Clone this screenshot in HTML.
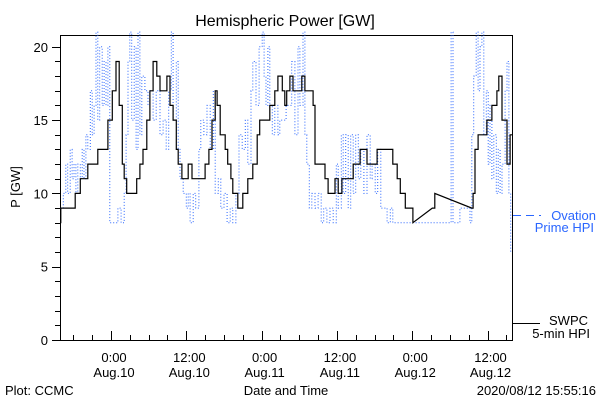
<!DOCTYPE html>
<html><head><meta charset="utf-8"><style>
body{margin:0;background:#fff}
svg{display:block;font-family:"Liberation Sans",sans-serif}
</style></head><body>
<svg id="chart" width="600" height="400"></svg>
<script>
const xTickHours=[0,12,24,36,48,60];
const xTickTimes=["0:00","12:00","0:00","12:00","0:00","12:00"];
const xTickDates=["Aug.10","Aug.10","Aug.11","Aug.11","Aug.12","Aug.12"];
const yTicks=[0,5,10,15,20];
const swpcHours=[-8.1,-8.0,-5.7,-4.9,-3.7,-2.1,-0.5,0.2,0.8,1.3,1.8,2.1,2.5,4.1,4.6,5.1,5.7,6.2,6.7,7.3,7.8,8.9,9.4,9.9,10.4,10.7,11.3,12.3,12.9,15.0,15.6,16.1,16.6,16.9,17.4,18.2,18.6,19.1,19.4,20.2,21.0,21.8,22.6,23.3,23.7,25.3,26.1,26.6,27.3,27.7,28.0,28.5,29.0,30.4,30.9,32.2,32.5,34.1,34.6,35.7,36.2,36.8,38.6,39.7,40.8,42.4,44.9,45.6,46.1,46.9,48.1,51.2,51.6,57.5,57.7,58.0,58.5,59.9,60.7,61.5,61.8,62.3,63.1,63.6,63.9];
const swpcPower=[8,9,10,11,12,13,15,17,19,16,12,11,10,11,12,13,15,17,19,18,17,18,16,15,13,12,11,12,11,12,13,15,17,16,14,13,12,11,10,9,10,11,12,14,15,16,17,18,17,16,17,18,17,18,17,16,12,11,10,11,10,11,12,13,12,13,12,11,10,9,8,9,10,9,10,13,14,15,16,17,18,15,12,14,14];
const ovationHours=[-8.1,-7.6,-7.2,-6.9,-6.5,-6.2,-5.9,-5.6,-5.3,-4.9,-4.6,-4.3,-4.0,-3.7,-3.3,-3.0,-2.7,-2.4,-2.1,-1.8,-1.4,-1.1,-0.8,-0.5,-0.2,0.2,0.6,1.1,1.6,2.1,2.4,2.7,3.0,3.3,3.7,4.0,4.3,4.6,4.9,5.4,5.9,6.2,6.7,7.2,7.8,8.3,8.8,9.2,9.6,9.9,10.4,10.7,11.0,11.5,12.0,12.3,12.6,13.1,13.5,14.0,14.3,14.8,15.3,15.8,16.3,16.6,17.1,17.5,18.0,18.5,19.0,19.4,19.9,20.4,20.9,21.4,21.8,22.3,22.6,23.1,23.6,24.1,24.4,24.7,25.0,25.3,25.7,26.1,26.6,26.9,27.4,27.9,28.4,28.8,29.3,29.8,30.1,30.6,30.9,31.2,31.6,32.0,32.5,33.0,33.5,33.9,34.4,34.9,35.4,35.9,36.2,36.7,37.0,37.4,37.8,38.2,38.6,39.0,39.4,39.8,40.3,40.8,41.3,41.6,42.1,42.5,43.0,43.5,44.0,44.5,44.9,46.1,54.0,54.2,54.5,55.3,55.6,57.2,57.5,57.8,58.2,58.5,58.8,59.1,59.4,59.8,60.1,60.4,60.7,61.0,61.4,61.7,62.0,62.3,62.8,63.1,63.4,63.7];
const ovationPower=[9,10,12,10,13,11,12,10,12,11,13,11,14,13,17,14,16,21,15,20,16,19,16,20,8,8,8,9,8,10,14,19,21,15,20,13,21,14,18,17,16,17,15,17,14,15,13,17,21,15,19,13,11,10,9,10,8,10,9,13,15,14,16,13,17,10,11,9,10,8,9,8,10,14,13,15,12,17,19,16,20,21,18,16,20,16,14,16,14,15,15,16,16,19,14,20,16,21,14,12,9,10,9,10,8,9,8,9,8,12,9,14,10,14,9,14,10,14,11,13,10,14,11,12,10,13,9,9,8,9,8,8,8,21,8,8,9,8,14,18,21,17,20,21,14,17,12,16,11,14,10,13,10,12,17,19,10,6];

const L=60,R=512,T=35,B=340,H0=-8.13,H1=63.9;
const xs=h=>L+(h-H0)/(H1-H0)*(R-L);
const ys=v=>B-v*14.66;
const svg=document.getElementById('chart');
const NS='http://www.w3.org/2000/svg';
function mk(tag,attrs,parent){const e=document.createElementNS(NS,tag);for(const k in attrs)e.setAttribute(k,attrs[k]);(parent||svg).appendChild(e);return e;}
function txt(s,x,y,anchor,fill,size,name){const t=mk('text',{x:x,y:y,'text-anchor':anchor,fill:fill,'font-size':size});t.textContent=s;

return t;}

const frame=mk('rect',{x:L+0.5,y:T+0.5,width:R-L,height:B-T,fill:'none',stroke:'#000','stroke-width':1});



for(let v=0;v<=20;v++){const y=Math.round(ys(v))+0.5;const len=v%5===0?8:5;
const tk=mk('line',{x1:L-len,x2:L,y1:y,y2:y,stroke:'#000'});

}
yTicks.forEach(v=>txt(String(v),48,ys(v)+5,'end','#000',13,'y-tick-label'));

for(let h=-6;h<=63;h+=3){const x=Math.round(xs(h))+0.5;const len=h%12===0?9:5;
const tk=mk('line',{x1:x,x2:x,y1:B-len,y2:B,stroke:'#000'});

}
xTickHours.forEach((h,i)=>{txt(xTickTimes[i],xs(h)+3,362,'middle','#000',13,'x-tick-time');txt(xTickDates[i],xs(h)+3,377,'middle','#000',13,'x-tick-date');});

function stepPath(hs,vs,gap){let d='M'+xs(hs[0]).toFixed(1)+','+ys(vs[0]).toFixed(1);
for(let i=1;i<hs.length;i++){const x=xs(hs[i]).toFixed(1),y=ys(vs[i]).toFixed(1);
if(gap&&hs[i]-hs[i-1]>3){d+='L'+x+','+y;}else{d+='H'+x+'V'+y;}}return d;}

const ov=mk('path',{d:stepPath(ovationHours,ovationPower,false),fill:'none',stroke:'#2a66ff','stroke-width':1,'stroke-dasharray':'1 2'});


const sw=mk('path',{d:stepPath(swpcHours,swpcPower,true),fill:'none',stroke:'#000','stroke-width':1.2});



txt('Hemispheric Power [GW]',285,26,'middle','#000',16,'chart-title');
const yl=txt('P [GW]',0,0,'middle','#000',13,'y-axis-title');yl.setAttribute('transform','translate(20,187) rotate(-90)');
txt('Plot: CCMC',5,395,'start','#000',13,'plot-credit');
txt('Date and Time',286,395,'middle','#000',13,'x-axis-title');
txt('2020/08/12 15:55:16',596,395,'end','#000',13,'timestamp');

const lg1=mk('line',{x1:513,x2:541,y1:215.5,y2:215.5,stroke:'#2a66ff','stroke-dasharray':'8 5'});


txt('Ovation',596,220,'end','#2a66ff',13,'legend-ovation-label');
txt('Prime HPI',594,232,'end','#2a66ff',13,'legend-ovation-label-2');
const lg2=mk('line',{x1:512,x2:540,y1:323.5,y2:323.5,stroke:'#000'});


txt('SWPC',588,325,'end','#000',13,'legend-swpc-label');
txt('5-min HPI',590,338,'end','#000',13,'legend-swpc-label-2');
</script>
</body></html>
